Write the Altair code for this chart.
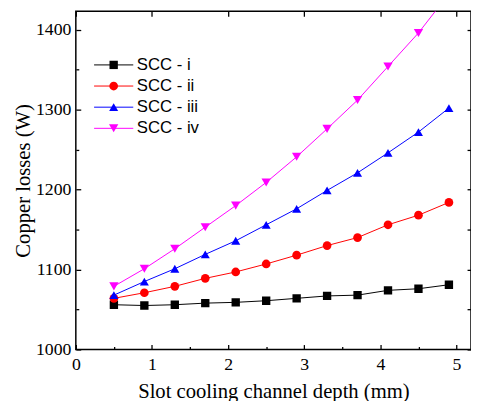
import altair as alt
import pandas as pd

depth = [0.5, 0.9, 1.3, 1.7, 2.1, 2.5, 2.9, 3.3, 3.7, 4.1, 4.5, 4.9]
series_names = ["SCC - i", "SCC - ii", "SCC - iii", "SCC - iv"]
scc_i = [1056, 1055, 1056, 1058, 1059, 1061, 1064, 1067, 1068, 1074, 1076, 1081]
scc_ii = [1064, 1071, 1079, 1089, 1097, 1107, 1118, 1130, 1140, 1156, 1168, 1184]
scc_iii = [1068, 1085, 1101, 1119, 1136, 1156, 1176, 1199, 1221, 1246, 1272, 1302]
scc_iv = [1079, 1101, 1126, 1153, 1180, 1209, 1241, 1276, 1312, 1354, 1396, 1445]
colors = ["#000000", "#ff0000", "#0000ff", "#ff00ff"]
x_major = [0, 1, 2, 3, 4, 5]
x_minor = [0.5, 1.5, 2.5, 3.5, 4.5]
y_major = [1000, 1100, 1200, 1300, 1400]
y_minor = [1050, 1150, 1250, 1350]
y_right = [1000, 1050, 1100, 1150, 1200, 1250, 1300, 1350, 1400]

rows = []
for name, vals in zip(series_names, [scc_i, scc_ii, scc_iii, scc_iv]):
    for d, v in zip(depth, vals):
        rows.append({"depth": d, "loss": v, "series": name})
df = pd.DataFrame(rows)

SERIF = "Liberation Serif"
SANS = "Liberation Sans"

x_scale = alt.Scale(domain=[0, 5.19], nice=False, zero=False)
y_scale = alt.Scale(domain=[1000, 1423], nice=False, zero=False)
color_scale = alt.Scale(domain=series_names, range=colors)
# line legend keyed on a twin field so it stays a separate legend drawn under the markers
line_names = [n + " " for n in series_names]
line_scale = alt.Scale(domain=line_names, range=colors)

common_axis = dict(domain=False, grid=False, tickColor="black", tickWidth=1.3,
                   labelColor="black", labelFont=SERIF, labelFontSize=18,
                   labelFlush=False, labelOverlap=False, format="d")

leg_common = dict(orient="none", legendX=30, legendY=46, title=None, labelFont=SANS,
                  labelFontSize=17, labelColor="black", symbolSize=110,
                  labelOffset=15, rowPadding=3.5, padding=0, symbolOpacity=1)

base = alt.Chart(df)

lines = base.transform_calculate(series_line="datum.series + ' '").mark_line(
    strokeWidth=1, clip=True
).encode(
    x=alt.X("depth:Q", scale=x_scale,
            axis=alt.Axis(orient="bottom", values=x_major, tickSize=5, offset=-5,
                          labelPadding=6, title="Slot cooling channel depth (mm)",
                          titleFont=SERIF, titleFontSize=21, titleFontWeight="normal",
                          titleColor="black", titlePadding=8, **common_axis)),
    y=alt.Y("loss:Q", scale=y_scale,
            axis=alt.Axis(orient="left", values=y_major, tickSize=5, offset=-5,
                          labelPadding=5, title="Copper losses (W)",
                          titleFont=SERIF, titleFontSize=21, titleFontWeight="normal",
                          titleColor="black", titlePadding=2, **common_axis)),
    stroke=alt.Stroke("series_line:N", scale=line_scale, legend=alt.Legend(
        symbolType="M-3.8,0H3.8", symbolStrokeWidth=1, labelOpacity=0, zindex=0,
        **leg_common)),
)

points = base.mark_point(filled=True, opacity=1, clip=True).encode(
    x=alt.X("depth:Q", scale=x_scale,
            axis=alt.Axis(orient="bottom", values=x_minor, tickSize=3, offset=-3,
                          labels=False, title=None, **common_axis)),
    y=alt.Y("loss:Q", scale=y_scale,
            axis=alt.Axis(orient="left", values=y_minor, tickSize=3, offset=-3,
                          labels=False, title=None, **common_axis)),
    color=alt.Color("series:N", scale=color_scale,
                    legend=alt.Legend(zindex=1, **leg_common)),
    shape=alt.Shape("series:N", scale=alt.Scale(domain=series_names,
                    range=["square", "circle", "triangle-up", "triangle-down"]),
                    legend=alt.Legend(zindex=1, **leg_common)),
    size=alt.Size("series:N", scale=alt.Scale(domain=series_names, range=[72, 90, 135, 135]),
                  legend=None),
)

frame_axes = base.mark_point(opacity=0).encode(
    x=alt.X("depth:Q", scale=x_scale,
            axis=alt.Axis(orient="top", values=x_major, tickSize=5, offset=-5,
                          labels=False, title=None, **common_axis)),
    y=alt.Y("loss:Q", scale=y_scale,
            axis=alt.Axis(orient="right", values=y_right, tickSize=4, offset=-4,
                          labels=False, title=None, **common_axis)),
)

chart = alt.layer(lines, points, frame_axes).resolve_axis(
    x="independent", y="independent"
).properties(
    width=402, height=344,
    autosize=alt.AutoSizeParams(type="none"),
    padding={"left": 69, "top": 0, "right": 0, "bottom": 49},
).configure_view(stroke="black", strokeWidth=1.5)

chart.save("out.html", embed_options={"renderer": "svg", "actions": False})
